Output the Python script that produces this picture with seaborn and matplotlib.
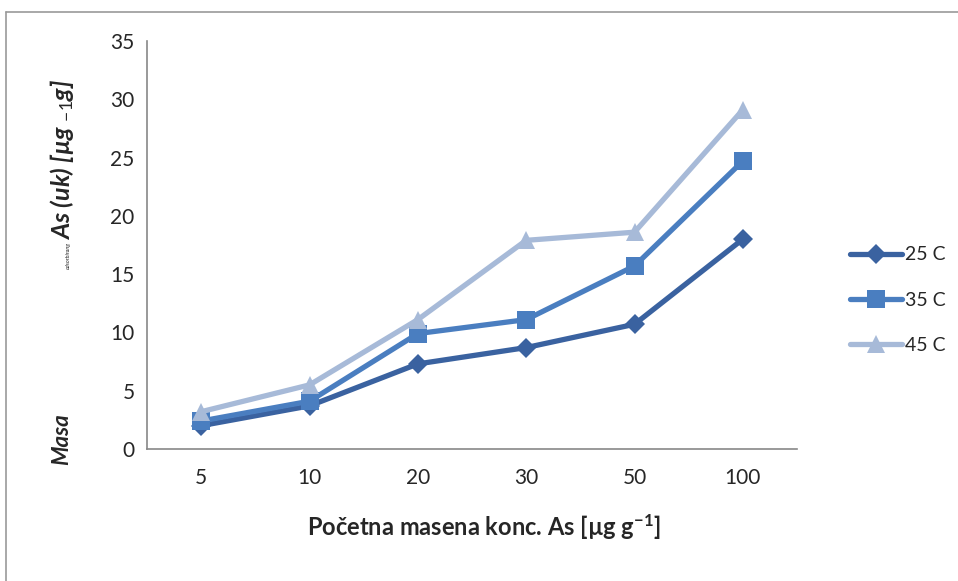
import matplotlib
matplotlib.use("Agg")
import matplotlib.pyplot as plt
import seaborn as sns
import pandas as pd
from matplotlib.lines import Line2D
from matplotlib.ticker import FixedLocator

categories = ["5", "10", "20", "30", "50", "100"]
series_names = ["25 C", "35 C", "45 C"]
vals_25 = [2.0, 3.7, 7.3, 8.7, 10.7, 18.0]
vals_35 = [2.4, 4.1, 9.9, 11.1, 15.7, 24.7]
vals_45 = [3.2, 5.5, 11.1, 17.9, 18.6, 29.1]
colors = ["#3A62A0", "#4A7EC0", "#A7BAD8"]

rows = []
for name, vals in zip(series_names, [vals_25, vals_35, vals_45]):
    for i, v in enumerate(vals):
        rows.append({"pos": i, "val": v, "series": name})
df = pd.DataFrame(rows)

sns.set_style("white")
plt.rcParams["font.family"] = ["Lato", "DejaVu Sans"]
plt.rcParams["mathtext.fontset"] = "custom"
plt.rcParams["mathtext.bf"] = "Lato:bold"
plt.rcParams["mathtext.rm"] = "Lato"
plt.rcParams["mathtext.it"] = "Lato:italic:bold"

fig = plt.figure(figsize=(9.58, 5.81), dpi=100)
ax = fig.add_axes([147/958, (581-449)/581, 650/958, 408/581])

sns.lineplot(data=df, x="pos", y="val", hue="series", style="series",
             hue_order=series_names, style_order=series_names,
             palette=colors, markers={"25 C": "D", "35 C": "s", "45 C": "^"},
             dashes=False, linewidth=3.8, markersize=12, markeredgewidth=0,
             ax=ax, legend=True)

for line, ms in zip(ax.lines[:3], [10, 13, 13]):
    line.set_markersize(ms)

ax.set_xlim(-0.5, 5.5)
ax.set_ylim(0, 35)
ax.set_yticks(range(0, 36, 5))
ax.set_xticks(range(len(categories)))
ax.set_xticklabels(categories)
ax.xaxis.set_minor_locator(FixedLocator([i - 0.5 for i in range(len(categories) + 1)]))
ax.tick_params(axis="x", which="major", length=0, pad=14, labelsize=15)
ax.tick_params(axis="x", which="minor", length=6, width=1.2, color="#888888", direction="out")
ax.tick_params(axis="y", which="major", length=6, width=1.2, color="#888888", direction="out",
               labelsize=15, pad=3)
for s in ["top", "right"]:
    ax.spines[s].set_visible(False)
for s in ["left", "bottom"]:
    ax.spines[s].set_color("#888888")
    ax.spines[s].set_linewidth(1.2)

ax.set_xlabel("")
ax.set_ylabel("")
fig.text(484/958, 1 - 527/581, r"Početna masena konc. As [µg g$^{\mathbf{-1}}$]",
         ha="center", va="center", fontsize=17, fontweight="bold")

# y label pieces
fig.text(62/958, 1 - 439/581, "Masa", rotation=90, ha="center", va="center",
         fontsize=16, fontweight="bold", fontstyle="italic")
fig.text(68/958, 1 - 256/581, "adsorbirang", rotation=90, ha="center", va="center",
         fontsize=4, fontstyle="italic")
fig.text(62/958, 1 - 240/581, r"As (uk) [µg $_{\mathit{-1}}$g]", rotation=90, ha="center",
         va="bottom", fontsize=18, fontweight="bold", fontstyle="italic")

handles, labels = ax.get_legend_handles_labels()
leg = ax.legend(handles=handles, labels=labels, loc="center left",
                bbox_to_anchor=(832/958, 1 - 300/581), bbox_transform=fig.transFigure,
                frameon=False, fontsize=14, labelspacing=1.45, handlelength=2.7,
                handletextpad=0.15)
for h, ms in zip(leg.legend_handles, [10, 13, 13]):
    h.set_markersize(ms)
    h.set_linewidth(3.8)

fig.add_artist(Line2D([6/958, 1], [1 - 12/581, 1 - 12/581], transform=fig.transFigure,
                      color="#999999", linewidth=1.2))
fig.add_artist(Line2D([6/958, 6/958], [0, 1 - 12/581], transform=fig.transFigure,
                      color="#999999", linewidth=1.2))

fig.savefig("out.png", dpi=100)
